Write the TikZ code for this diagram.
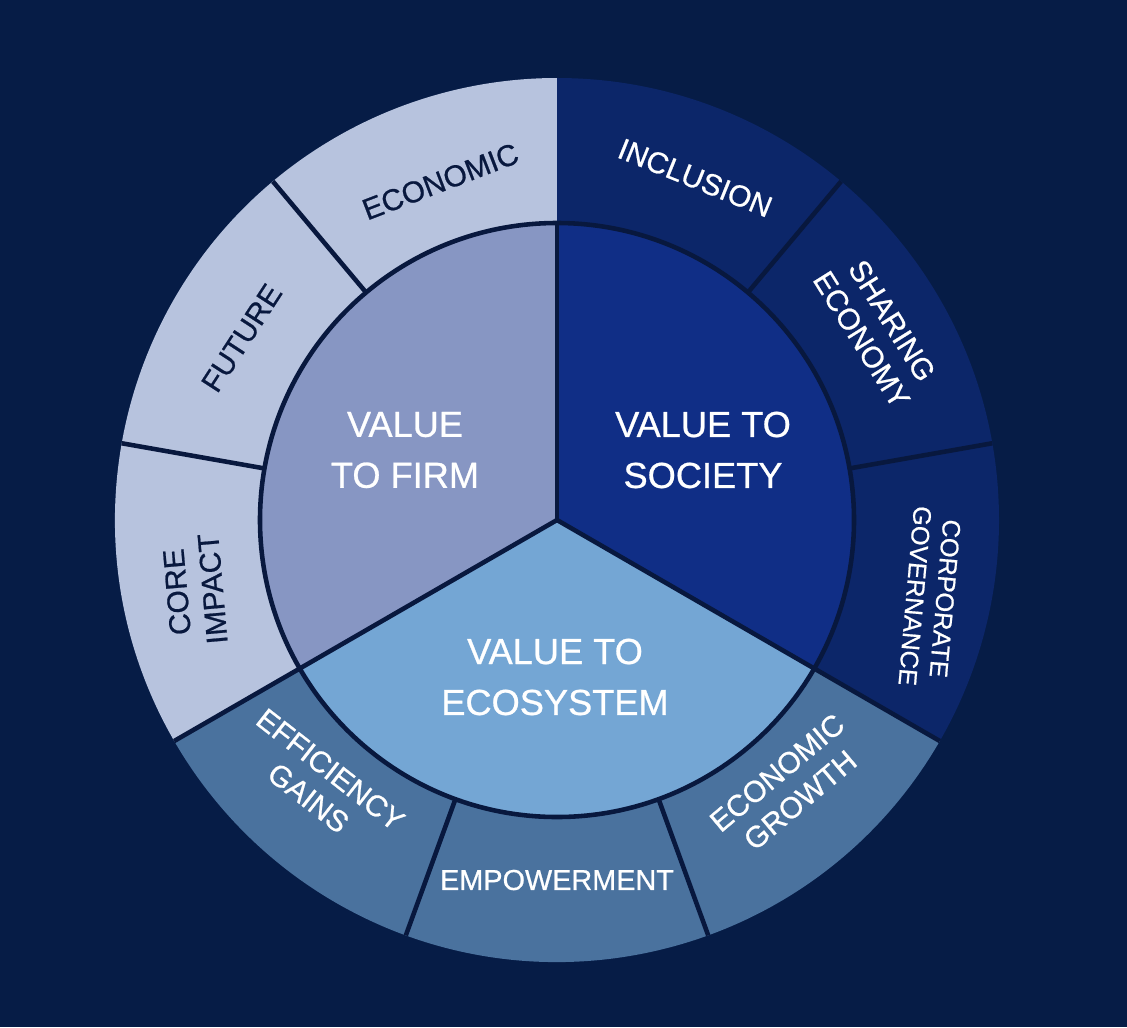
\documentclass[tikz,border=0pt]{standalone}
\usepackage{fontspec}
\setmainfont{Liberation Sans}[UprightFeatures={FakeBold=0.7}]
\usetikzlibrary{positioning}

\definecolor{bgnavy}{RGB}{6,28,70}
\definecolor{edgenavy}{RGB}{8,24,62}
\definecolor{firmin}{RGB}{135,150,195}
\definecolor{firmout}{RGB}{183,195,222}
\definecolor{socin}{RGB}{16,46,134}
\definecolor{socout}{RGB}{12,38,105}
\definecolor{ecoin}{RGB}{116,166,212}
\definecolor{ecoout}{RGB}{74,114,158}

\newcommand{\rin}{2.97}
\newcommand{\rout}{4.42}

\begin{document}
\begin{tikzpicture}[
  hub/.style={align=center, text=white, font=\fontsize{10.3}{14.5}\selectfont},
  seg/.style={align=center, font=\fontsize{8.5}{10.2}\selectfont},
  darklbl/.style={seg, text=edgenavy},
  lightlbl/.style={seg, text=white},
  edge/.style={draw=edgenavy, line width=1.3pt}
]
\useasboundingbox (-5.57,-5.07) rectangle (5.70,5.20);
\fill[bgnavy] (-5.57,-5.07) rectangle (5.70,5.20);

% --- outer ring ---
\fill[firmout] (90:\rin) arc[start angle=90, end angle=210, radius=\rin]
  -- (210:\rout) arc[start angle=210, end angle=90, radius=\rout] -- cycle;
\fill[socout] (-30:\rin) arc[start angle=-30, end angle=90, radius=\rin]
  -- (90:\rout) arc[start angle=90, end angle=-30, radius=\rout] -- cycle;
\fill[ecoout] (210:\rin) arc[start angle=210, end angle=330, radius=\rin]
  -- (330:\rout) arc[start angle=330, end angle=210, radius=\rout] -- cycle;
\draw[edge] (130:\rin) -- (130:\rout);
\draw[edge] (170:\rin) -- (170:\rout);
\draw[edge] (210:\rin) -- (210:\rout);
\draw[edge] (250:\rin) -- (250:\rout);
\draw[edge] (290:\rin) -- (290:\rout);
\draw[edge] (330:\rin) -- (330:\rout);
\draw[edge] (10:\rin) -- (10:\rout);
\draw[edge] (50:\rin) -- (50:\rout);

% --- inner disc ---
\fill[firmin] (0,0) -- (90:\rin) arc[start angle=90, end angle=210, radius=\rin] -- cycle;
\fill[socin] (0,0) -- (-30:\rin) arc[start angle=-30, end angle=90, radius=\rin] -- cycle;
\fill[ecoin] (0,0) -- (210:\rin) arc[start angle=210, end angle=330, radius=\rin] -- cycle;
\draw[edge] (0,0) circle[radius=\rin];
\draw[edge] (0,0) -- (90:\rin);
\draw[edge] (0,0) -- (210:\rin);
\draw[edge] (0,0) -- (330:\rin);

% --- hub labels ---
\node[hub] (firm) at (-1.52,0.70) {VALUE\\TO FIRM};
\node[hub] (society) at (1.46,0.70) {VALUE TO\\SOCIETY};
\node[hub] (ecosystem) at (-0.02,-1.57) {VALUE TO\\ECOSYSTEM};

% --- ring labels ---
\node[darklbl, rotate=21] (economic) at (109:3.58) {ECONOMIC};
\node[darklbl, rotate=57] (future) at (150:3.64) {FUTURE};
\node[darklbl, rotate=95] (core) at (191:3.69) {CORE\\IMPACT};
\node[lightlbl, rotate=-22] (inclusion) at (68:3.69) {INCLUSION};
\node[lightlbl, rotate=-58] (sharing) at (30.7:3.72) {SHARING\\ECONOMY};
\node[lightlbl, rotate=-95, font=\fontsize{7.2}{8.6}\selectfont] (governance) at (-11.7:3.81) {CORPORATE\\GOVERNANCE};
\node[lightlbl, rotate=-38] (efficiency) at (228:3.55) {EFFICIENCY\\GAINS};
\node[lightlbl, font=\fontsize{8.2}{10.2}\selectfont] (empowerment) at (270:3.60) {EMPOWERMENT};
\node[lightlbl, rotate=40] (growth) at (311:3.53) {ECONOMIC\\GROWTH};
\end{tikzpicture}
\end{document}
